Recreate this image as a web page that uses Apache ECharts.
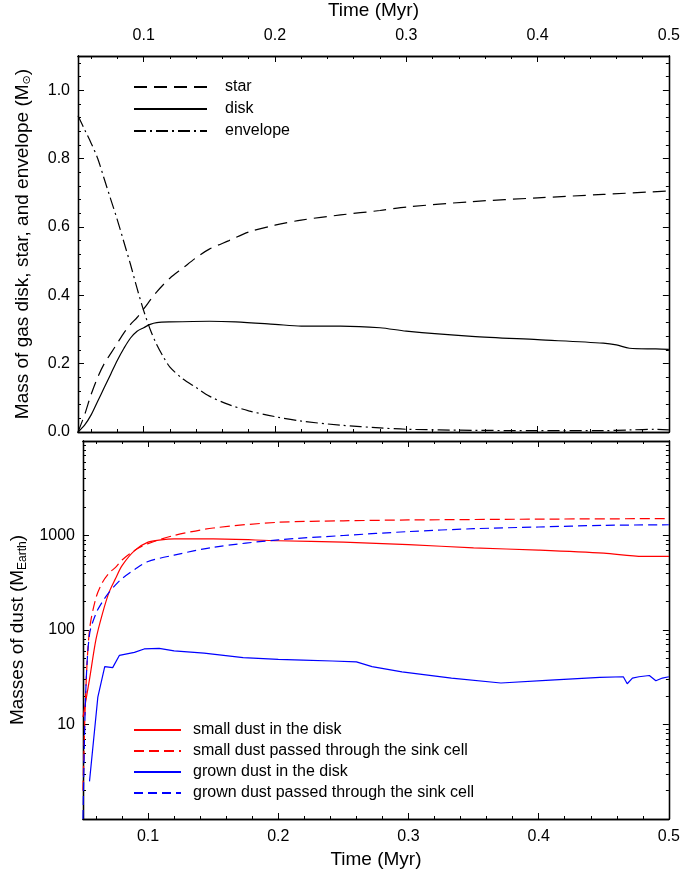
<!DOCTYPE html>
<html><head><meta charset="utf-8">
<script src="https://cdn.jsdelivr.net/npm/echarts@6/dist/echarts.min.js"></script>
<style>html,body{margin:0;padding:0;background:#fff}#c{width:683px;height:876px}</style>
</head><body><div id="c"></div>
<script>
// ---- tick definitions ----
const xMajorTicks = [0.1, 0.2, 0.3, 0.4, 0.5];
const xMinorTicks = [0.06, 0.08, 0.12, 0.14, 0.16, 0.18, 0.22, 0.24, 0.26, 0.28, 0.32, 0.34, 0.36, 0.38, 0.42, 0.44, 0.46, 0.48];
const yTopMajor = [0, 0.2, 0.4, 0.6, 0.8, 1.0];
const yTopMinor = [0.04, 0.08, 0.12, 0.16, 0.24, 0.28, 0.32, 0.36, 0.44, 0.48, 0.52, 0.56, 0.64, 0.68, 0.72, 0.76, 0.84, 0.88, 0.92, 0.96, 1.04, 1.08];
const yLogLabels = [10, 100, 1000];
const yLogMajor = [1, 10, 100, 1000, 10000];
const yLogMinor = [2,3,4,5,6,7,8,9,20,30,40,50,60,70,80,90,200,300,400,500,600,700,800,900,2000,3000,4000,5000,6000,7000,8000,9000];

// ---- top panel data (Msun) ----
const starT = [0.05,0.055,0.06,0.065,0.07,0.075,0.08,0.085,0.09,0.095,0.1,0.11,0.12,0.13,0.14,0.15,0.165,0.18,0.2,0.22,0.25,0.28,0.3,0.35,0.4,0.45,0.5];
const starV = [0.0,0.05,0.11,0.16,0.2,0.23,0.26,0.29,0.315,0.335,0.36,0.41,0.45,0.48,0.51,0.535,0.56,0.585,0.605,0.62,0.635,0.648,0.658,0.674,0.685,0.695,0.705];
const diskT = [0.05,0.055,0.06,0.065,0.07,0.075,0.08,0.085,0.09,0.095,0.1,0.105,0.11,0.12,0.15,0.17,0.2,0.22,0.25,0.28,0.3,0.35,0.4,0.45,0.46,0.47,0.49,0.5];
const diskV = [0.0,0.02,0.05,0.09,0.13,0.17,0.21,0.245,0.275,0.295,0.305,0.315,0.32,0.322,0.324,0.322,0.315,0.31,0.31,0.305,0.295,0.28,0.27,0.26,0.255,0.245,0.243,0.242];
const envT = [0.05,0.055,0.06,0.065,0.07,0.075,0.08,0.085,0.09,0.095,0.1,0.105,0.11,0.115,0.12,0.13,0.14,0.15,0.165,0.18,0.2,0.22,0.25,0.28,0.3,0.35,0.4,0.45,0.47,0.49,0.5];
const envV = [0.925,0.885,0.845,0.8,0.74,0.68,0.62,0.555,0.49,0.42,0.355,0.3,0.255,0.22,0.19,0.155,0.13,0.105,0.08,0.062,0.045,0.032,0.02,0.012,0.008,0.005,0.004,0.004,0.006,0.008,0.006];

// ---- bottom panel data (M_Earth) ----
const smallDiskT = [0.05,0.055,0.06,0.065,0.07,0.075,0.08,0.09,0.1,0.11,0.12,0.15,0.2,0.25,0.3,0.35,0.4,0.45,0.48,0.5];
const smallDiskV = [12,30,80,150,250,350,480,700,850,900,920,920,880,850,800,740,700,650,600,600];
const smallSinkT = [0.05,0.052,0.055,0.06,0.065,0.07,0.075,0.08,0.09,0.1,0.12,0.15,0.2,0.25,0.3,0.4,0.5];
const smallSinkV = [2,20,100,220,320,400,460,550,700,820,1000,1200,1380,1430,1460,1490,1510];
const grownDiskT = [0.055,0.0614,0.0667,0.0728,0.078,0.0895,0.097,0.1085,0.12,0.143,0.173,0.2,0.219,0.2415,0.26,0.272,0.295,0.333,0.371,0.409,0.447,0.465,0.468,0.472,0.477,0.485,0.49,0.495,0.5];
const grownDiskV = [2.5,19.5,41,40,54,58,63,64,60,57,51,49,48,47,46,41,36,31,27.5,29.5,31.5,32,27,31,32,33,29,31,32];
const grownSinkT = [0.05,0.052,0.055,0.06,0.065,0.07,0.075,0.08,0.09,0.1,0.12,0.15,0.2,0.25,0.3,0.35,0.4,0.45,0.5];
const grownSinkV = [1,20,90,150,200,250,300,350,440,530,620,750,900,1000,1100,1180,1230,1280,1300];

const zip = (t, v) => t.map((x, i) => [x, v[i]]);
const FONT = 'Liberation Sans, Arial, sans-serif';
const X_MIN = 0.05, X_MAX = 0.5;

function mkAxis(kind, grid, pos, ticks, len, opts) {
  return Object.assign({
    type: kind === 'ylog' ? 'log' : 'value',
    gridIndex: grid, position: pos,
    splitLine: { show: false },
    axisLine: { show: true, onZero: false, lineStyle: { color: '#000', width: 1.3 } },
    axisTick: { show: true, inside: true, length: len, customValues: ticks, lineStyle: { color: '#000', width: 1 } },
    axisLabel: { show: false },
  }, opts || {});
}

const xAxes = [], yAxes = [];
function xa(grid, pos, ticks, len, opts) {
  xAxes.push(mkAxis('x', grid, pos, ticks, len, Object.assign({ min: X_MIN, max: X_MAX }, opts || {})));
  return xAxes.length - 1;
}
function ya(kind, grid, pos, ticks, len, opts) {
  const base = kind === 'ylog' ? { min: 1, max: 10000, logBase: 10 } : { min: 0, max: 1.1 };
  yAxes.push(mkAxis(kind, grid, pos, ticks, len, Object.assign(base, opts || {})));
  return yAxes.length - 1;
}

const labelStyle = { show: true, color: '#000', fontSize: 16, fontFamily: FONT };
const nameStyle = { color: '#000', fontSize: 19, fontFamily: FONT };

// top grid
const x0 = xa(0, 'top', xMajorTicks, 6, {
  name: 'Time (Myr)', nameLocation: 'middle', nameGap: 36, nameTextStyle: nameStyle,
  axisLabel: Object.assign({}, labelStyle, { margin: 12, customValues: xMajorTicks, formatter: v => v.toFixed(1) })
});
xa(0, 'top', xMinorTicks, 3);
xa(0, 'bottom', xMajorTicks, 6);
xa(0, 'bottom', xMinorTicks, 3);
const y0 = ya('y', 0, 'left', yTopMajor, 6, {
  name: 'Mass of gas disk, star, and envelope (M{s|⊙})', nameLocation: 'middle', nameGap: 45,
  nameTextStyle: Object.assign({}, nameStyle, { rich: { s: { fontSize: 11, fontFamily: 'DejaVu Sans', color: '#000', padding: [9, 0, 0, 0] } } }),
  axisLabel: Object.assign({}, labelStyle, { margin: 8, customValues: yTopMajor, formatter: v => v.toFixed(1) })
});
ya('y', 0, 'left', yTopMinor, 3);
ya('y', 0, 'right', yTopMajor, 6);
ya('y', 0, 'right', yTopMinor, 3);

// bottom grid
const x1 = xa(1, 'bottom', xMajorTicks, 6, {
  name: 'Time (Myr)', nameLocation: 'middle', nameGap: 31, nameTextStyle: nameStyle,
  axisLabel: Object.assign({}, labelStyle, { margin: 10, customValues: xMajorTicks, formatter: v => v.toFixed(1) })
});
xa(1, 'bottom', xMinorTicks, 3);
xa(1, 'top', xMajorTicks, 6);
xa(1, 'top', xMinorTicks, 3);
const y1 = ya('ylog', 1, 'left', yLogMajor, 6, {
  name: 'Masses of dust (M{s|Earth})', nameLocation: 'middle', nameGap: 45,
  nameTextStyle: Object.assign({}, nameStyle, { rich: { s: { fontSize: 12, fontFamily: FONT, color: '#000', padding: [10, 0, 0, 0] } } }),
  axisLabel: Object.assign({}, labelStyle, { margin: 8, customValues: yLogLabels, formatter: v => String(Math.round(v)) })
});
ya('ylog', 1, 'left', yLogMinor, 3);
ya('ylog', 1, 'right', yLogMajor, 6);
ya('ylog', 1, 'right', yLogMinor, 3);

const lw = 1.2;
const legendItem = { opacity: 0, color: 'transparent', borderWidth: 0 };
const option = {
  backgroundColor: '#fff',
  animation: false,
  textStyle: { fontFamily: FONT },
  grid: [
    { left: 78, top: 55, width: 592, height: 377 },
    { left: 78, top: 441, width: 592, height: 378 }
  ],
  xAxis: xAxes,
  yAxis: yAxes,
  legend: [
    { data: ['star', 'disk', 'envelope'], orient: 'vertical', left: 133, top: 79, padding: 0, itemWidth: 73, itemHeight: 14, itemGap: 6,
      itemStyle: legendItem,
      textStyle: { color: '#000', fontSize: 16, fontFamily: FONT, padding: [0, 0, 0, 13] }, selectedMode: false },
    { data: ['small dust in the disk', 'small dust passed through the sink cell', 'grown dust in the disk', 'grown dust passed through the sink cell'],
      orient: 'vertical', left: 133, top: 722, padding: 0, itemWidth: 47, itemHeight: 14, itemGap: 5,
      itemStyle: legendItem,
      textStyle: { color: '#000', fontSize: 16, fontFamily: FONT, padding: [0, 0, 0, 7] }, selectedMode: false }
  ],
  series: [
    { name: 'star', type: 'line', xAxisIndex: x0, yAxisIndex: y0, data: zip(starT, starV), symbol: 'none', smooth: 0.3,
      lineStyle: { color: '#000', width: lw, type: [13, 7] }, itemStyle: { color: '#000' } },
    { name: 'disk', type: 'line', xAxisIndex: x0, yAxisIndex: y0, data: zip(diskT, diskV), symbol: 'none', smooth: 0.3,
      lineStyle: { color: '#000', width: lw, type: 'solid' }, itemStyle: { color: '#000' } },
    { name: 'envelope', type: 'line', xAxisIndex: x0, yAxisIndex: y0, data: zip(envT, envV), symbol: 'none', smooth: 0.3,
      lineStyle: { color: '#000', width: lw, type: [12, 4, 2, 4] }, itemStyle: { color: '#000' } },
    { name: 'small dust in the disk', type: 'line', xAxisIndex: x1, yAxisIndex: y1, data: zip(smallDiskT, smallDiskV), symbol: 'none', smooth: 0.3,
      lineStyle: { color: '#ff0000', width: lw, type: 'solid' }, itemStyle: { color: '#ff0000' } },
    { name: 'small dust passed through the sink cell', type: 'line', xAxisIndex: x1, yAxisIndex: y1, data: zip(smallSinkT, smallSinkV), symbol: 'none', smooth: 0.3,
      lineStyle: { color: '#ff0000', width: lw, type: [10, 5] }, itemStyle: { color: '#ff0000' } },
    { name: 'grown dust in the disk', type: 'line', xAxisIndex: x1, yAxisIndex: y1, data: zip(grownDiskT, grownDiskV), symbol: 'none',
      lineStyle: { color: '#0000ff', width: lw, type: 'solid' }, itemStyle: { color: '#0000ff' } },
    { name: 'grown dust passed through the sink cell', type: 'line', xAxisIndex: x1, yAxisIndex: y1, data: zip(grownSinkT, grownSinkV), symbol: 'none', smooth: 0.3,
      lineStyle: { color: '#0000ff', width: lw, type: [9, 5] }, itemStyle: { color: '#0000ff' } }
  ]
};
const chart = echarts.init(document.getElementById('c'), null, { renderer: 'canvas' });
chart.setOption(option);
</script>
</body></html>
